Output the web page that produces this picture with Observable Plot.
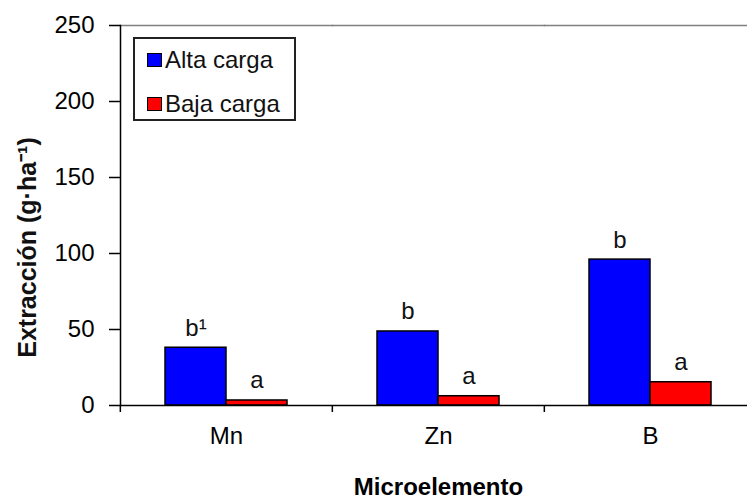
<!DOCTYPE html>
<html>
<head>
<meta charset="utf-8">
<script src="https://cdn.jsdelivr.net/npm/d3@7"></script>
<script src="https://cdn.jsdelivr.net/npm/@observablehq/plot@0.6"></script>
<style>
  body { margin: 0; background: #fff; }
  #wrap { position: relative; width: 747px; height: 501px; overflow: hidden; font-family: "Liberation Sans", Arial, sans-serif; }
  #legend { position: absolute; left: 133px; top: 37px; width: 163px; height: 84px; box-sizing: border-box;
            border: 2px solid #222; background: #fff; }
  #legend .row { position: absolute; left: 12px; height: 28px; display: flex; align-items: center; font-size: 24px; color: #111; white-space: pre; }
  #legend .sw { width: 13px; height: 12px; border: 1px solid #000; margin-right: 3px; }
  g[aria-label="fx-axis label"] text { font-weight: bold; }
</style>
</head>
<body>
<div id="wrap"></div>
<script>
// ---- data ----
const categories = ["Mn", "Zn", "B"];
const series = ["Alta carga", "Baja carga"];
const altaCarga = [38, 48.7, 96];
const bajaCarga = [3.3, 6.1, 15.3];
const letrasAlta = ["b¹", "b", "b"];
const letrasBaja = ["a", "a", "a"];
const yTicks = [0, 50, 100, 150, 200, 250];
const colors = ["#0000ff", "#ff0000"];
const yTitle = "Extracción (g·ha⁻¹)";
const xTitle = "Microelemento";

const rows = [];
categories.forEach((c, i) => {
  rows.push({cat: c, serie: series[0], value: altaCarga[i], letra: letrasAlta[i]});
  rows.push({cat: c, serie: series[1], value: bajaCarga[i], letra: letrasBaja[i]});
});

const chart = Plot.plot({
  width: 747,
  height: 501,
  marginTop: 25,
  marginBottom: 96,
  marginLeft: 119,
  marginRight: -9,
  style: {fontFamily: "'Liberation Sans', Arial, sans-serif", fontSize: "24px", color: "#000", background: "#fff", overflow: "visible"},
  fx: {domain: categories, padding: 0},
  x: {domain: series, paddingInner: 0, paddingOuter: 0.71, axis: null},
  y: {domain: [0, 250]},
  color: {domain: series, range: colors},
  marks: [
    Plot.frame({anchor: "top", stroke: "#808080", strokeWidth: 1.5}),
    Plot.frame({anchor: "left", facetAnchor: "left", stroke: "#000", strokeWidth: 1.5}),
    Plot.barY(rows, {fx: "cat", x: "serie", y: "value", fill: "serie", stroke: "#000", strokeWidth: 1.5}),
    Plot.text(rows, {fx: "cat", x: "serie", y: "value", text: "letra", lineAnchor: "bottom", dy: -12, fontSize: 24, fill: "#111"}),
    Plot.ruleY([0], {stroke: "#000", strokeWidth: 1.5}),
    Plot.axisY({ticks: yTicks, tickSize: 11, tickPadding: 15, strokeWidth: 1.5, fontSize: 24, label: null}),
    Plot.text([yTitle], {text: d => d, frameAnchor: "left", facetAnchor: "left", rotate: -90, dx: -93, dy: 32,
                         fontSize: 25, fontWeight: "bold", fill: "#111", textAnchor: "middle", lineAnchor: "middle"}),
    Plot.axisFx({anchor: "bottom", tickSize: 0, tickPadding: 21, fontSize: 24, label: xTitle, labelAnchor: "center", labelOffset: 89}),
    Plot.axisFx({anchor: "bottom", tickSize: 7, strokeWidth: 1.5, tickFormat: () => "", dx: -106.17, label: null})
  ]
});

const wrap = document.getElementById("wrap");
wrap.appendChild(chart);

// legend built from the series arrays
const legend = document.createElement("div");
legend.id = "legend";
series.forEach((s, i) => {
  const row = document.createElement("div");
  row.className = "row";
  row.style.top = (i === 0 ? 7 : 51) + "px";
  const sw = document.createElement("span");
  sw.className = "sw";
  sw.style.background = colors[i];
  row.appendChild(sw);
  row.appendChild(document.createTextNode(s));
  legend.appendChild(row);
});
wrap.appendChild(legend);
</script>
</body>
</html>
